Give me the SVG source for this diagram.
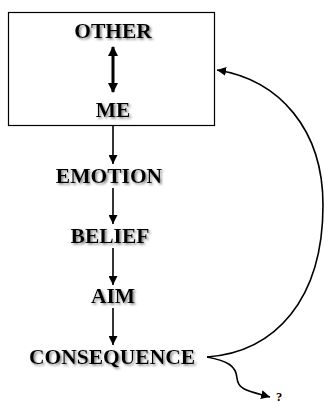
<svg xmlns="http://www.w3.org/2000/svg" width="324" height="402" viewBox="0 0 324 402">
<style>
.t{font-family:"Liberation Serif","Times New Roman",serif;font-weight:bold;font-size:21.5px;fill:#000;text-anchor:middle;filter:url(#sh)}
.c{fill:none;stroke:#000;stroke-width:1.6}
</style>
<defs>
<filter id="sh" x="-10%" y="-30%" width="130%" height="170%">
<feDropShadow dx="1.6" dy="1.6" stdDeviation="0.8" flood-color="#777" flood-opacity="0.9"/>
</filter>
<marker id="ah" viewBox="0 0 10 10" refX="10" refY="5" markerWidth="9" markerHeight="9" markerUnits="userSpaceOnUse" orient="auto">
<path d="M0,0 L10,5 L0,10 z" fill="#000"/>
</marker>
<marker id="ab" viewBox="0 0 10 10" refX="9" refY="5" markerWidth="10" markerHeight="10" markerUnits="userSpaceOnUse" orient="auto-start-reverse">
<path d="M0,0 L10,5 L0,10 z" fill="#000"/>
</marker>
</defs>
<g id="box"><rect x="8.5" y="12.5" width="206" height="113" fill="#fff" stroke="#000" stroke-width="1.2"/></g>
<g id="other"><text class="t" x="113" y="38">OTHER</text></g>
<g id="me"><text class="t" x="113" y="117">ME</text></g>
<g id="emotion"><text class="t" x="109" y="183">EMOTION</text></g>
<g id="belief"><text class="t" x="110" y="243">BELIEF</text></g>
<g id="aim"><text class="t" x="113" y="303">AIM</text></g>
<g id="consequence"><text class="t" x="112" y="364">CONSEQUENCE</text></g>
<g id="question"><text x="279" y="400.5" style="font-family:'Liberation Serif',serif;font-weight:bold;font-size:12.5px;text-anchor:middle">?</text></g>
<g id="connectors">
<line x1="113" y1="47" x2="113" y2="92" stroke="#000" stroke-width="3" marker-start="url(#ab)" marker-end="url(#ab)"/>
<line class="c" x1="113" y1="126" x2="113" y2="164" marker-end="url(#ah)"/>
<line class="c" x1="113" y1="188" x2="113" y2="224" marker-end="url(#ah)"/>
<line class="c" x1="113" y1="248" x2="113" y2="285" marker-end="url(#ah)"/>
<line class="c" x1="113" y1="308" x2="113" y2="345" marker-end="url(#ah)"/>
<path class="c" d="M207,357 C275,352 323,300 323,205 C323,130 280,80 217,70" marker-end="url(#ah)"/>
<path class="c" d="M207,357 C228,361 236,366 237,378 C238,390 248,391 270,397" marker-end="url(#ah)"/>
</g>
</svg>
